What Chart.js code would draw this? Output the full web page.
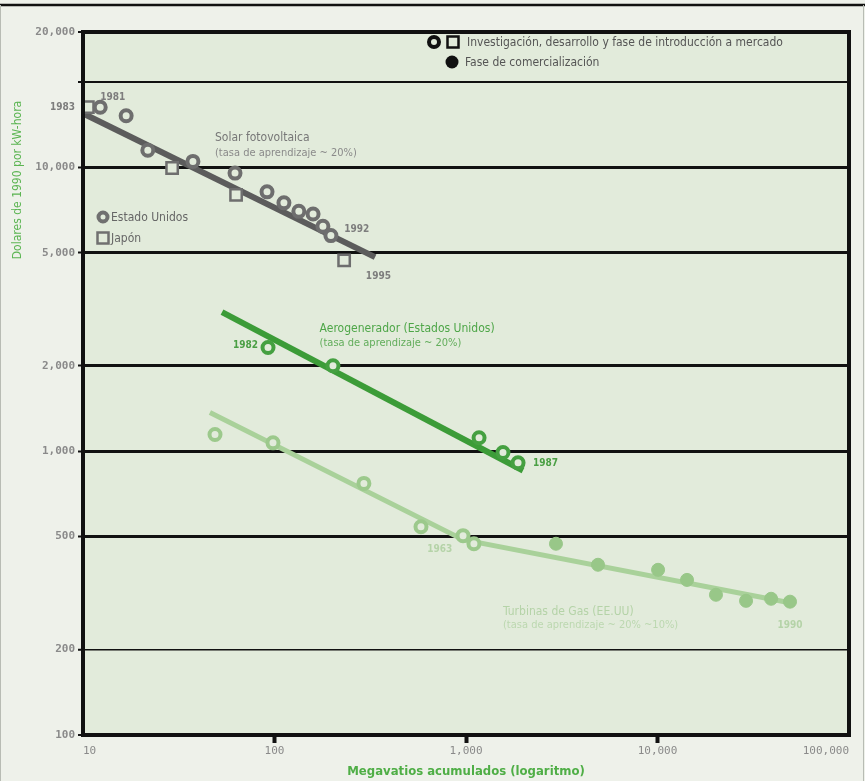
<!DOCTYPE html>
<html lang="es">
<head>
<meta charset="utf-8">
<title>Curvas de aprendizaje</title>
<script src="https://cdn.jsdelivr.net/npm/chart.js@4.4.1/dist/chart.umd.min.js"></script>
<style>
  html, body { margin: 0; padding: 0; background: #eef1ea; }
  #chart { display: block; }
</style>
</head>
<body>
<canvas id="chart" width="865" height="781"></canvas>
<script>
// Solar fotovoltaica - Estados Unidos (MW acumulados, $1990/kWh)
const pvUsX = [12.3, 16.8, 21.8, 37.5, 62.2, 91.4, 112, 134, 159, 179, 197];
const pvUsY = [16300, 15200, 11500, 10500, 9550, 8200, 7500, 7000, 6850, 6200, 5750];
// Solar fotovoltaica - Japón
const pvJpX = [10.6, 29.2, 63, 231];
const pvJpY = [16300, 9950, 8000, 4700];
// recta de aprendizaje solar
const pvFitX = [10.2, 335];
const pvFitY = [15400, 4830];

// Aerogenerador (Estados Unidos)
const windX = [92.5, 202, 1170, 1560, 1870];
const windY = [2320, 2000, 1115, 990, 910];
const windFitX = [53.2, 1985];
const windFitY = [3090, 855];

// Turbinas de gas - investigación / introducción
const gasRdX = [48.9, 98.2, 293, 582, 965, 1100];
const gasRdY = [1145, 1070, 770, 542, 504, 472];
// Turbinas de gas - comercialización
const gasComX = [2950, 4890, 10070, 14260, 20200, 29000, 39200, 49200];
const gasComY = [472, 398, 382, 352, 312, 297, 302, 295];
const gasFitX = [46, 965, 52200];
const gasFitY = [1370, 488, 290];

// ejes
const xTicks = [10, 100, 1000, 10000, 100000];
const xTickLabels = ['10', '100', '1,000', '10,000', '100,000'];
const yTicks = [100, 200, 500, 1000, 2000, 5000, 10000, 20000, 30000];
const yTickLabels = ['100', '200', '500', '1,000', '2,000', '5,000', '10,000', '', '20,000'];

const plotBg = '#e2ebdb';
const narrow = '"Liberation Sans Narrow", "DejaVu Sans Condensed", sans-serif';
const mono = '"DejaVu Sans Mono", monospace';

const pts = (xs, ys) => xs.map((x, i) => ({ x: x, y: ys[i] }));

// textos sobre el gráfico (coordenadas en valores de datos)
const notes = [
  { text: '1981', x: 14.3, y: 17700, color: '#7d7d7d', align: 'center', font: 'bold 10px ' + narrow },
  { text: '1983', x: 9.08, y: 16300, color: '#7d7d7d', align: 'right', font: 'bold 10px ' + narrow },
  { text: '1992', x: 231, y: 6070, color: '#7d7d7d', align: 'left', font: 'bold 10px ' + narrow },
  { text: '1995', x: 300, y: 4140, color: '#7d7d7d', align: 'left', font: 'bold 10px ' + narrow },
  { text: 'Solar fotovoltaica', x: 48.9, y: 12700, color: '#777', align: 'left', font: '12px ' + narrow },
  { text: '(tasa de aprendizaje ~ 20%)', x: 48.9, y: 11240, color: '#8a8a8a', align: 'left', font: '11px ' + narrow },
  { text: '1982', x: 82, y: 2350, color: '#4a9f44', align: 'right', font: 'bold 10px ' + narrow },
  { text: '1987', x: 2240, y: 909, color: '#4a9f44', align: 'left', font: 'bold 10px ' + narrow },
  { text: 'Aerogenerador (Estados Unidos)', x: 172, y: 2700, color: '#4ea648', align: 'left', font: '12px ' + narrow },
  { text: '(tasa de aprendizaje ~ 20%)', x: 172, y: 2405, color: '#62ad5b', align: 'left', font: '11px ' + narrow },
  { text: '1963', x: 730, y: 452, color: '#b5d3a8', align: 'center', font: 'bold 10px ' + narrow },
  { text: '1990', x: 49200, y: 244, color: '#b5d3a8', align: 'center', font: 'bold 10px ' + narrow },
  { text: 'Turbinas de Gas (EE.UU)', x: 1560, y: 271, color: '#b5d3a8', align: 'left', font: '12px ' + narrow },
  { text: '(tasa de aprendizaje ~ 20% ~10%)', x: 1560, y: 244, color: '#bcd8b0', align: 'left', font: '11px ' + narrow },
];

// fondo, marco y textos dibujados alrededor del área
const decor = {
  id: 'decor',
  beforeDraw(chart) {
    const { ctx, chartArea: a } = chart;
    ctx.save();
    ctx.fillStyle = '#eef1ea';
    ctx.fillRect(0, 0, chart.width, chart.height);
    ctx.fillStyle = plotBg;
    ctx.fillRect(a.left, a.top, a.right - a.left, a.bottom - a.top);
    // marco exterior
    ctx.strokeStyle = '#111';
    ctx.lineWidth = 2.5;
    ctx.beginPath(); ctx.moveTo(0, 5); ctx.lineTo(chart.width, 5); ctx.stroke();
    ctx.strokeStyle = '#b8bcb4';
    ctx.lineWidth = 1;
    ctx.beginPath();
    ctx.moveTo(0.5, 5); ctx.lineTo(0.5, chart.height);
    ctx.moveTo(chart.width - 1.5, 5); ctx.lineTo(chart.width - 1.5, chart.height);
    ctx.stroke();
    ctx.restore();
  },
  afterDraw(chart) {
    const { ctx, chartArea: a, scales } = chart;
    ctx.save();
    // marco del área
    ctx.strokeStyle = '#111';
    ctx.lineWidth = 4;
    ctx.strokeRect(a.left, a.top, a.right - a.left, a.bottom - a.top);

    // título del eje y
    ctx.save();
    ctx.translate(18, 180);
    ctx.rotate(-Math.PI / 2);
    ctx.fillStyle = '#5cb553';
    ctx.font = '12px ' + narrow;
    ctx.textAlign = 'center';
    ctx.textBaseline = 'middle';
    ctx.fillText('Dolares de 1990 por kW-hora', 0, 0);
    ctx.restore();

    // anotaciones
    ctx.textBaseline = 'middle';
    notes.forEach(n => {
      ctx.font = n.font;
      ctx.fillStyle = n.color;
      ctx.textAlign = n.align;
      ctx.fillText(n.text, scales.x.getPixelForValue(n.x), scales.y.getPixelForValue(n.y));
    });

    // leyenda superior
    const ring = (x, y, c, r) => {
      ctx.beginPath(); ctx.arc(x, y, r, 0, Math.PI * 2);
      ctx.fillStyle = plotBg; ctx.fill();
      ctx.lineWidth = 4; ctx.strokeStyle = c; ctx.stroke();
    };
    const square = (x, y, c, s) => {
      ctx.fillStyle = plotBg; ctx.fillRect(x - s / 2, y - s / 2, s, s);
      ctx.lineWidth = 2.5; ctx.strokeStyle = c; ctx.strokeRect(x - s / 2, y - s / 2, s, s);
    };
    ring(434, 42, '#111', 5);
    square(453, 42, '#111', 11);
    ctx.beginPath(); ctx.arc(452, 62, 6.5, 0, Math.PI * 2);
    ctx.fillStyle = '#111'; ctx.fill();
    ctx.fillStyle = '#555';
    ctx.textAlign = 'left';
    ctx.font = '12px ' + narrow;
    ctx.fillText('Investigación, desarrollo y fase de introducción a mercado', 467, 43);
    ctx.fillText('Fase de comercialización', 465, 63);

    // leyenda solar
    ring(103, 217, '#707070', 4.5);
    square(103, 238, '#707070', 11);
    ctx.fillStyle = '#666';
    ctx.font = '12px ' + narrow;
    ctx.fillText('Estado Unidos', 111, 218);
    ctx.fillText('Japón', 111, 239);
    ctx.restore();
  }
};

const lineSet = (data, color, width) => ({
  data: data, showLine: true, borderColor: color, borderWidth: width,
  pointRadius: 0, fill: false, order: 2, tension: 0, borderCapStyle: 'butt'
});
const ringSet = (data, color) => ({
  data: data, showLine: false, pointStyle: 'circle', pointRadius: 5.5,
  pointBorderWidth: 4, pointBorderColor: color, pointBackgroundColor: plotBg, order: 1
});

new Chart(document.getElementById('chart').getContext('2d'), {
  type: 'scatter',
  data: {
    datasets: [
      lineSet(pts(pvFitX, pvFitY), '#5c5c5c', 6),
      lineSet(pts(windFitX, windFitY), '#3c9c38', 6),
      lineSet(pts(gasFitX, gasFitY), '#a9d19a', 5),
      ringSet(pts(pvUsX, pvUsY), '#6e6e6e'),
      {
        data: pts(pvJpX, pvJpY), showLine: false, pointStyle: 'rect', pointRadius: 8,
        pointBorderWidth: 2.5, pointBorderColor: '#6e6e6e', pointBackgroundColor: plotBg, order: 1
      },
      ringSet(pts(windX, windY), '#45a041'),
      ringSet(pts(gasRdX, gasRdY), '#9cc98c'),
      {
        data: pts(gasComX, gasComY), showLine: false, pointStyle: 'circle', pointRadius: 6.5,
        pointBorderWidth: 1, pointBorderColor: '#98c788', pointBackgroundColor: '#98c788', order: 1
      }
    ]
  },
  options: {
    responsive: false,
    animation: false,
    devicePixelRatio: 1,
    layout: { padding: { top: 32, right: 16, left: 0, bottom: 0 } },
    plugins: { legend: { display: false }, tooltip: { enabled: false } },
    scales: {
      x: {
        type: 'logarithmic',
        min: 10,
        max: 100000,
        afterBuildTicks: s => { s.ticks = xTicks.map(v => ({ value: v })); },
        afterFit: s => { s.height = 46; },
        border: { display: false },
        grid: {
          drawOnChartArea: false,
          tickLength: 8,
          tickWidth: 4,
          tickColor: c => (c.index === 0 || c.index === xTicks.length - 1) ? 'rgba(0,0,0,0)' : '#111'
        },
        ticks: {
          align: 'inner',
          padding: 2,
          color: '#8a8a8a',
          font: { family: mono, size: 11 },
          callback: (v, i) => xTickLabels[i]
        },
        title: {
          display: true,
          text: 'Megavatios acumulados (logaritmo)',
          color: '#4fae46',
          font: { family: narrow, size: 13, weight: 'bold' },
          padding: { top: 0, bottom: 2 }
        }
      },
      y: {
        type: 'logarithmic',
        min: 100,
        max: 30000,
        afterBuildTicks: s => { s.ticks = yTicks.map(v => ({ value: v })); },
        afterFit: s => { s.width = 83; },
        border: { display: false },
        grid: {
          color: '#111',
          lineWidth: c => {
            const v = c.tick ? c.tick.value : 0;
            if (v === 20000) return 2;
            if (v === 200) return 1.5;
            if (v === 100 || v === 30000) return 0;
            return 3;
          },
          tickLength: 5,
          tickWidth: 2,
          tickColor: '#111'
        },
        ticks: {
          padding: 3,
          color: '#8a8a8a',
          font: { family: mono, size: 11, weight: 'bold' },
          callback: (v, i) => yTickLabels[i]
        }
      }
    }
  },
  plugins: [decor]
});
</script>
</body>
</html>
